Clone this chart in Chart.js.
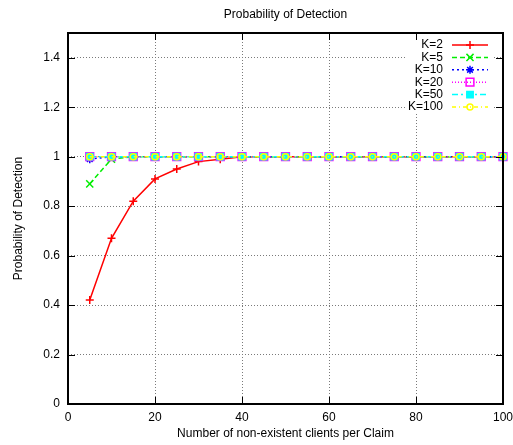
<!DOCTYPE html>
<html>
<head>
<meta charset="utf-8">
<title>Probability of Detection</title>
<script src="https://cdn.jsdelivr.net/npm/chart.js@4/dist/chart.umd.min.js"></script>
<style>
  html, body { margin: 0; padding: 0; background: #fff; }
  #wrap { width: 513px; height: 445px; }
</style>
</head>
<body>
<div id="wrap"><canvas id="chart"></canvas></div>
<script>
// number of non-existent clients per claim
const clients = [5, 10, 15, 20, 25, 30, 35, 40, 45, 50, 55, 60, 65, 70, 75, 80, 85, 90, 95, 100];

// detection probability for each K
const k2   = [0.42, 0.67, 0.82, 0.91, 0.95, 0.98, 0.99, 1, 1, 1, 1, 1, 1, 1, 1, 1, 1, 1, 1, 1];
const k5   = [0.89, 0.99, 1, 1, 1, 1, 1, 1, 1, 1, 1, 1, 1, 1, 1, 1, 1, 1, 1, 1];
const k10  = [0.99, 1, 1, 1, 1, 1, 1, 1, 1, 1, 1, 1, 1, 1, 1, 1, 1, 1, 1, 1];
const k20  = [1, 1, 1, 1, 1, 1, 1, 1, 1, 1, 1, 1, 1, 1, 1, 1, 1, 1, 1, 1];
const k50  = [1, 1, 1, 1, 1, 1, 1, 1, 1, 1, 1, 1, 1, 1, 1, 1, 1, 1, 1, 1];
const k100 = [1, 1, 1, 1, 1, 1, 1, 1, 1, 1, 1, 1, 1, 1, 1, 1, 1, 1, 1, 1];

const seriesLabels = ['K=2', 'K=5', 'K=10', 'K=20', 'K=50', 'K=100'];
const seriesValues = [k2, k5, k10, k20, k50, k100];

const xTicks = [0, 20, 40, 60, 80, 100];
const yTicks = [0, 0.2, 0.4, 0.6, 0.8, 1, 1.2, 1.4];

// gnuplot-like line types
const styles = [
  { color: '#ff0000', dash: [],           point: 'cross',    r: 4,   fill: false },
  { color: '#00ee00', dash: [5, 3],       point: 'crossRot', r: 5,   fill: false },
  { color: '#0000ff', dash: [2, 3],       point: 'star',     r: 4,   fill: false },
  { color: '#ff00ff', dash: [1, 2],       point: 'rect',     r: 5.5, fill: false },
  { color: '#00ffff', dash: [6, 3, 2, 3], point: 'rect',     r: 4.5, fill: true  },
  { color: '#ffff00', dash: [4, 3, 1, 3], point: 'circle',   r: 3,   fill: false }
];

const FONT = 'Liberation Sans, Arial, Helvetica, sans-serif';
Chart.defaults.font.family = FONT;
Chart.defaults.font.size = 12;
Chart.defaults.color = '#000';

const datasets = seriesValues.map((vals, i) => {
  const s = styles[i];
  return {
    label: seriesLabels[i],
    data: clients.map((x, j) => ({ x: x, y: vals[j] })),
    borderColor: s.color,
    backgroundColor: s.color,
    borderWidth: 1.5,
    borderDash: s.dash,
    pointStyle: s.point,
    pointRadius: s.r,
    pointBorderWidth: 1.5,
    pointBorderColor: s.color,
    pointBackgroundColor: s.fill ? s.color : 'rgba(0,0,0,0)',
    tension: 0,
    clip: false,
    order: seriesValues.length - 1 - i   // later curves on top
  };
});

function gridColor(edgeValues) {
  return ctx => (edgeValues.includes(ctx.tick.value) ? 'rgba(0,0,0,0)' : '#7a7a7a');
}

// title, key box, inward ticks and frame
const gnuplotFrame = {
  id: 'gnuplotFrame',
  beforeDatasetsDraw(chart) {
    const ctx = chart.ctx;
    const a = chart.chartArea;
    ctx.save();
    ctx.fillStyle = '#000';
    ctx.font = '12px ' + FONT;
    ctx.textAlign = 'center';
    ctx.textBaseline = 'middle';
    ctx.fillText('Probability of Detection', (a.left + a.right) / 2, 15);

    // key
    ctx.fillStyle = '#fff';
    ctx.fillRect(405, 38, 88, 76);
    seriesLabels.forEach((lab, i) => {
      const s = styles[i];
      const y = 45 + i * 12.4;
      ctx.fillStyle = '#000';
      ctx.textAlign = 'right';
      ctx.fillText(lab, 443, y);
      ctx.strokeStyle = s.color;
      ctx.lineWidth = 1.5;
      ctx.setLineDash(s.dash);
      ctx.beginPath();
      ctx.moveTo(452, y);
      ctx.lineTo(488, y);
      ctx.stroke();
      ctx.setLineDash([]);
      ctx.fillStyle = s.fill ? s.color : 'rgba(0,0,0,0)';
      if (Chart.helpers && Chart.helpers.drawPoint) {
        Chart.helpers.drawPoint(ctx, { pointStyle: s.point, radius: s.r, borderWidth: 1.5, rotation: 0 }, 470, y);
      }
    });
    ctx.restore();
  },
  afterDraw(chart) {
    const ctx = chart.ctx;
    const a = chart.chartArea;
    const xs = chart.scales.x;
    const ys = chart.scales.y;
    const t = 7;
    ctx.save();
    ctx.strokeStyle = '#000';
    ctx.lineWidth = 1;
    ctx.beginPath();
    xTicks.forEach(v => {
      const px = Math.round(xs.getPixelForValue(v)) + 0.5;
      ctx.moveTo(px, a.bottom); ctx.lineTo(px, a.bottom - t);
      ctx.moveTo(px, a.top); ctx.lineTo(px, a.top + t);
    });
    yTicks.forEach(v => {
      const py = Math.round(ys.getPixelForValue(v)) + 0.5;
      ctx.moveTo(a.left, py); ctx.lineTo(a.left + t, py);
      ctx.moveTo(a.right, py); ctx.lineTo(a.right - t, py);
    });
    ctx.stroke();
    ctx.lineWidth = 2;
    ctx.strokeRect(a.left, a.top, a.right - a.left, a.bottom - a.top);
    ctx.restore();
  }
};

new Chart(document.getElementById('chart'), {
  type: 'line',
  data: { datasets: datasets },
  plugins: [gnuplotFrame],
  options: {
    responsive: true,
    maintainAspectRatio: false,
    animation: false,
    layout: { padding: { top: 33, right: 10, left: 0, bottom: 0 } },
    plugins: {
      legend: { display: false },
      title: { display: false },
      tooltip: { enabled: false }
    },
    scales: {
      x: {
        type: 'linear',
        min: 0,
        max: 100,
        afterBuildTicks: s => { s.ticks = xTicks.map(v => ({ value: v })); },
        afterFit: s => {
          s.height = 41;
          s.paddingLeft = 0;
          s.paddingRight = 0;
        },
        ticks: { padding: 6, maxRotation: 0, callback: v => String(v) },
        grid: { color: gridColor([0, 100]), lineWidth: 1, drawTicks: false },
        border: { display: false, dash: [1, 2] },
        title: {
          display: true,
          text: 'Number of non-existent clients per Claim',
          padding: { top: 0, bottom: 4 }
        }
      },
      y: {
        type: 'linear',
        min: 0,
        max: 1.5,
        afterBuildTicks: s => { s.ticks = yTicks.map(v => ({ value: v })); },
        afterFit: s => {
          s.width = 68;
          s.paddingTop = 0;
          s.paddingBottom = 0;
        },
        ticks: { padding: 8, callback: v => String(+v.toFixed(1)) },
        grid: { color: gridColor([0]), lineWidth: 1, drawTicks: false },
        border: { display: false, dash: [1, 2] },
        title: {
          display: true,
          text: 'Probability of Detection',
          padding: { top: 11, bottom: 0 }
        }
      }
    }
  }
});
</script>
</body>
</html>
